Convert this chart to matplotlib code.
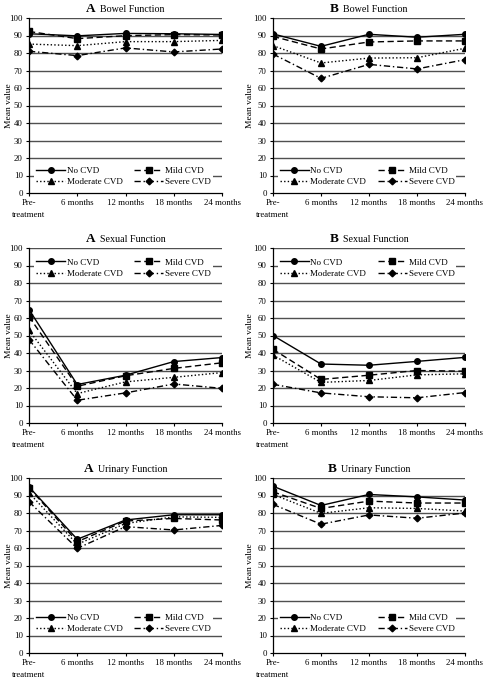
import matplotlib
matplotlib.use('Agg')
import matplotlib.pyplot as plt
from matplotlib.offsetbox import TextArea, HPacker, AnchoredOffsetbox

plt.rcParams['font.family'] = ['Liberation Serif', 'DejaVu Serif']

months = ['Pre-\ntreatment', '6 months', '12 months', '18 months', '24 months']
groups = ['No CVD', 'Mild CVD', 'Moderate CVD', 'Severe CVD']

# rows: No, Mild, Moderate, Severe CVD
bowel_a = [[91.0, 89.8, 91.2, 91.0, 90.6],
           [92.3, 88.2, 89.9, 90.5, 90.3],
           [85.1, 84.2, 86.5, 86.5, 87.2],
           [81.0, 78.5, 82.9, 80.6, 82.3]]
bowel_b = [[90.9, 83.8, 90.7, 89.0, 90.7],
           [89.5, 82.3, 86.3, 86.9, 86.9],
           [84.2, 74.3, 77.1, 77.3, 82.7],
           [79.4, 65.5, 73.5, 70.9, 76.2]]
sexual_a = [[64.8, 22.0, 27.3, 35.1, 37.4],
            [60.8, 21.0, 27.0, 31.2, 34.4],
            [52.9, 16.8, 23.5, 26.1, 28.8],
            [47.7, 13.0, 17.2, 22.3, 19.8]]
sexual_b = [[50.0, 33.7, 33.0, 35.2, 37.5],
            [42.1, 24.9, 27.3, 30.0, 29.6],
            [38.8, 23.2, 24.3, 27.5, 28.1],
            [22.1, 17.2, 15.0, 14.4, 17.4]]
urinary_a = [[94.9, 65.0, 76.0, 79.0, 79.0],
             [94.5, 63.6, 75.4, 76.9, 76.0],
             [91.5, 62.1, 74.0, 77.8, 77.5],
             [86.4, 59.8, 72.2, 70.3, 72.9]]
urinary_b = [[95.3, 84.3, 90.6, 89.2, 87.4],
             [92.1, 82.6, 86.8, 85.7, 85.7],
             [90.6, 79.8, 83.0, 82.6, 81.1],
             [84.9, 73.6, 78.9, 77.0, 80.0]]

markers = ['o', 's', '^', 'D']
styles = ['-', (0, (4.5, 2.5)), (0, (1, 1.6)), (0, (4.5, 2, 1, 2))]
msizes = [4, 4, 4.3, 3.4]

W, H = 484, 679
fig = plt.figure(figsize=(W / 100, H / 100), dpi=100)

cols = [29, 273]
col_w = [193, 192]
ylab_x = [-0.085, -0.1]
rows = [(18, 193), (248, 423), (478, 653)]
panels = [[('A', 'Bowel Function', bowel_a, 0.095), ('B', 'Bowel Function', bowel_b, 0.095)],
          [('A', 'Sexual Function', sexual_a, 0.885), ('B', 'Sexual Function', sexual_b, 0.885)],
          [('A', 'Urinary Function', urinary_a, 0.168), ('B', 'Urinary Function', urinary_b, 0.168)]]

x = list(range(len(months)))
for r, (top, bot) in enumerate(rows):
    for c in range(2):
        letter, name, data, leg_y = panels[r][c]
        ax = fig.add_axes([cols[c] / W, 1 - bot / H, col_w[c] / W, (bot - top) / H])
        lines = []
        for i, g in enumerate(groups):
            ln, = ax.plot(x, data[i], color='black', lw=1, linestyle=styles[i],
                          marker=markers[i], markersize=msizes[i], label=g, zorder=3)
            lines.append(ln)
        ax.set_xlim(0, 4)
        ax.set_ylim(0, 100)
        ax.set_yticks(range(0, 101, 10))
        ax.set_xticks(x)
        ax.set_xticklabels(months, linespacing=1.7)
        for yv in range(10, 101, 10):
            ax.axhline(yv, color='#505050', lw=1, zorder=1)
        for s in ['top', 'right']:
            ax.spines[s].set_visible(False)
        ax.spines['left'].set_linewidth(0.9)
        ax.spines['bottom'].set_linewidth(0.9)
        ax.tick_params(axis='both', labelsize=6.3, length=2.5, width=0.8, pad=2)
        ax.set_ylabel('Mean value', fontsize=6.8)
        ax.yaxis.set_label_coords(ylab_x[c], 0.5)
        # column-wise fill -> rows read No/Mild, Moderate/Severe
        order = [0, 2, 1, 3]
        leg = ax.legend([lines[k] for k in order], [groups[k] for k in order],
                        ncol=2, loc='center', bbox_to_anchor=(0.49, leg_y),
                        fontsize=6.5, handlelength=3.2, handletextpad=0.2,
                        columnspacing=1.3, labelspacing=0.35, numpoints=1,
                        frameon=True, borderpad=0.2, borderaxespad=0)
        leg.get_frame().set_facecolor('white')
        leg.get_frame().set_edgecolor('none')
        leg.get_frame().set_alpha(1)
        leg.set_zorder(5)
        t1 = TextArea(letter, textprops=dict(fontsize=9.5, fontweight='bold'))
        t2 = TextArea(name, textprops=dict(fontsize=7.2))
        box = HPacker(children=[t1, t2], align='baseline', pad=0, sep=3)
        anc = AnchoredOffsetbox(loc='lower center', child=box, frameon=False,
                                bbox_to_anchor=(0.5, 1.0), bbox_transform=ax.transAxes,
                                pad=0, borderpad=0.25)
        ax.add_artist(anc)

fig.savefig('out.png', dpi=100)
